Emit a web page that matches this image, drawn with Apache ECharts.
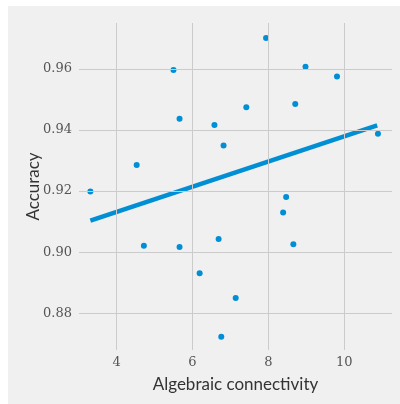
<!DOCTYPE html>
<html><head><meta charset="utf-8">
<script src="https://cdn.jsdelivr.net/npm/echarts@6/dist/echarts.min.js"></script>
<style>html,body{margin:0;padding:0;background:#fff;}#c{width:400px;height:404px;}</style>
</head><body><div id="c"></div>
<script>
const connectivity = [3.31,4.53,5.50,5.66,6.58,6.82,7.42,7.94,8.71,8.98,9.81,10.89,8.47,8.39,4.72,5.66,6.69,8.66,6.19,7.14,6.76];
const accuracy = [0.9199,0.9285,0.9596,0.9437,0.9416,0.9349,0.9474,0.9701,0.9485,0.9607,0.9575,0.9388,0.9181,0.9130,0.9021,0.9017,0.9043,0.9026,0.8931,0.8850,0.8723];
const fitX = [3.31, 10.87];
const fitY = [0.9103, 0.9415];
const xTicks = [4, 6, 8, 10];
const yTicks = [0.88, 0.90, 0.92, 0.94, 0.96];

const chart = echarts.init(document.getElementById('c'), null, {renderer:'canvas'});
const tickFont = {fontFamily:'DejaVu Serif', fontSize:13, color:'#555'};
const gridLines = xTicks.map(v=>({xAxis:v})).concat(yTicks.map(v=>({yAxis:v})));
chart.setOption({
  backgroundColor:'transparent',
  animation:false,
  graphic:[{type:'rect', z:-10, silent:true, shape:{x:8,y:6,width:392,height:398}, style:{fill:'#f0f0f0'}}],
  grid:{left:79, right:8, top:23, bottom:54},
  xAxis:{type:'value', min:3.01, max:11.26,
    name:'Algebraic connectivity', nameLocation:'middle', nameGap:26, nameMoveOverlap:false,
    nameTextStyle:{fontFamily:'Lato', fontSize:17, color:'#333'},
    axisLine:{show:false}, axisTick:{show:false},
    splitLine:{show:false},
    axisLabel:Object.assign({margin:6, customValues:xTicks, formatter:v=>String(v)}, tickFont)},
  yAxis:{type:'value', min:0.868, max:0.975,
    name:'Accuracy', nameLocation:'middle', nameGap:37, nameMoveOverlap:false,
    nameTextStyle:{fontFamily:'Lato', fontSize:17, color:'#333'},
    axisLine:{show:false}, axisTick:{show:false},
    splitLine:{show:false},
    axisLabel:Object.assign({margin:7, customValues:yTicks, formatter:v=>v.toFixed(2)}, tickFont)},
  series:[
    {type:'scatter', data:[], z:0, markLine:{silent:true, symbol:['none','none'], label:{show:false},
      lineStyle:{color:'#cbcbcb', width:1, type:'solid'}, emphasis:{disabled:true}, data:gridLines}},
    {type:'line', data:fitX.map((x,i)=>[x,fitY[i]]), symbol:'none', lineStyle:{color:'#008fd5', width:4.5}, z:2},
    {type:'scatter', data:connectivity.map((x,i)=>[x,accuracy[i]]), symbolSize:6, itemStyle:{color:'#008fd5', opacity:1}, z:3}
  ]
});
</script></body></html>
